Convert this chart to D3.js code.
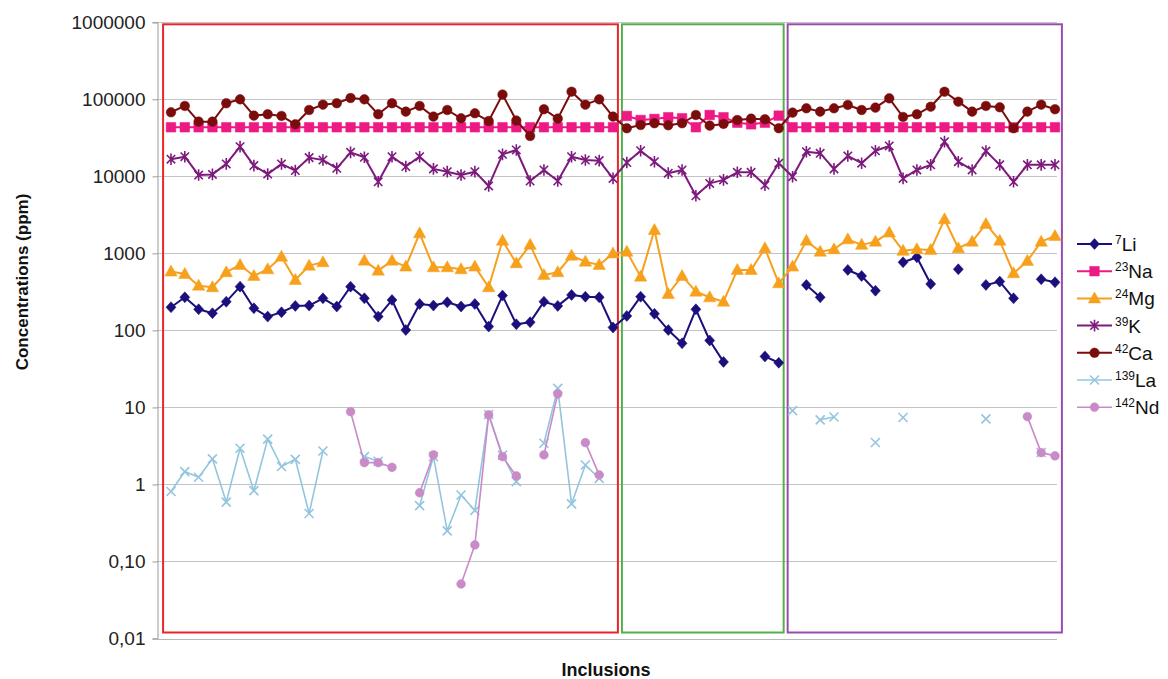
<!DOCTYPE html>
<html><head><meta charset="utf-8">
<script src="https://cdn.jsdelivr.net/npm/d3@7"></script>
<style>body{margin:0;background:#fff}svg{display:block;font-family:"Liberation Sans",Arial,sans-serif}</style>
</head><body><svg id="c" width="1168" height="679"></svg>
<script>
const N = null;
const inclusions = d3.range(65);
const li = [200,269,188,167,236,370,194,151,172,208,210,261,204,370,261,151,248,101,220,210,232,204,220,112,283,120,128,236,208,289,274,269,109,
  154,274,164,101,68,188,74,39,N,N,46,38,
  N,389,269,N,609,509,328,N,767,891,401,N,622,N,389,430,261,N,461,422];
const na = [43400,43400,43400,43400,43400,43400,43400,43400,43400,43400,43400,43400,43400,43400,43400,43400,43400,43400,43400,43400,43400,43400,43400,43400,43400,43400,43400,43400,43400,43400,43400,43400,43400,
  60800,53900,55600,58500,56700,43400,62600,58500,49700,47400,49700,61400,
  43400,43400,43400,43400,43400,43400,43400,43400,43400,43400,43400,43400,43400,43400,43400,43400,43400,43400,43400,43400];
const mg = [580,541,381,363,569,708,509,622,906,452,693,767,N,N,805,597,805,673,1820,660,660,622,673,363,1460,745,1290,525,569,934,781,708,1000,
  1050,499,2010,297,509,318,269,236,609,609,1165,409,
  673,1460,1050,1130,1520,1290,1420,1860,1080,1130,1110,2770,1165,1420,2410,1460,552,798,1420,1680];
const k = [16700,18000,10400,10600,14500,24300,13800,10700,14500,11900,17500,16300,12700,20500,17700,8500,18000,13400,18000,12500,11500,10400,11500,7500,19300,22000,8700,12100,8700,18000,16300,16000,9400,
  15100,21500,15500,11000,12100,5600,8100,9000,11300,11300,7700,14800,
  9900,20900,19900,12500,18400,14800,21500,24800,9400,12100,14100,28200,15500,12100,21300,14100,8500,14100,14100,14100];
const ca = [67900,82000,51300,51300,88900,100000,61400,64000,60800,47400,72700,85200,88900,104000,100000,64000,88900,69200,82000,59600,72700,56700,65900,52300,115000,53000,33400,74300,56100,125600,85200,100000,59600,
  42100,46400,48900,46000,48900,62600,45500,47900,53900,56100,55100,42100,
  67100,76500,69200,76500,84500,72700,78000,103000,59000,64000,80200,125600,93200,69200,82000,78800,42100,69200,85200,74300];
const la = [0.81,1.47,1.24,2.15,0.59,2.95,0.83,3.87,1.71,2.12,0.42,2.72,N,N,2.3,2.0,N,N,0.53,2.3,0.25,0.73,0.46,8.1,2.4,1.09,N,3.43,17.7,0.56,1.79,1.2,N,
  N,N,N,N,N,N,N,N,N,N,N,N,
  9.1,N,6.9,7.5,N,N,3.5,N,7.4,N,N,N,N,N,7.1,N,N,N,2.6,N];
const nd = [N,N,N,N,N,N,N,N,N,N,N,N,N,8.8,1.92,1.92,1.67,N,0.78,2.42,N,0.051,0.164,8.0,2.3,1.29,N,2.42,15.0,N,3.49,1.33,N,
  N,N,N,N,N,N,N,N,N,N,N,N,
  N,N,N,N,N,N,N,N,N,N,N,N,N,N,N,N,N,7.6,2.59,2.35];
const tickValues = [0.01,0.1,1,10,100,1000,10000,100000,1000000];
const tickLabels = ["0,01","0,10","1","10","100","1000","10000","100000","1000000"];
const isotopes = ["7","23","24","39","42","139","142"];
const elements = ["Li","Na","Mg","K","Ca","La","Nd"];
const groups = [[0,32],[33,44],[45,64]];
const yTitle = "Concentrations (ppm)";
const xTitle = "Inclusions";

const svg = d3.select("#c");
const x = d3.scaleLinear().domain([0,64]).range([171,1055]);
const y = d3.scaleLog().domain([0.01,1e6]).range([638.5,22.3]);
const left = 157, right = 1057;

// gridlines
svg.append("g").selectAll("line").data(tickValues.slice(1)).join("line")
  .attr("x1",left).attr("x2",right).attr("y1",d=>Math.round(y(d))+0.5).attr("y2",d=>Math.round(y(d))+0.5)
  .attr("stroke","#c4c4c4").attr("stroke-width",1);

// y axis
const ya = svg.append("g").attr("transform",`translate(${left+0.5},0)`)
  .call(d3.axisLeft(y).tickValues(tickValues).tickFormat((d,i)=>tickLabels[i]).tickSize(5).tickPadding(7));
ya.select(".domain").attr("stroke","#9a9a9a");
ya.selectAll(".tick line").attr("stroke","#9a9a9a");
ya.selectAll(".tick text").attr("font-size",19).attr("fill","#222").attr("font-family","Liberation Sans, Arial");
// x axis line
svg.append("line").attr("x1",left).attr("x2",right).attr("y1",Math.round(y(0.01))+0.5).attr("y2",Math.round(y(0.01))+0.5)
  .attr("stroke","#b8b8b8");

// boxes
const boxColors = ["#e8262a","#52b04c","#9a4bae"];
const boxPad = [[-1,-2],[2,-2],[2,0]];
groups.forEach((g,i)=>{
  const x0 = x(g[0]-0.5)+boxPad[i][0], x1 = x(g[1]+0.5)+boxPad[i][1];
  svg.append("rect").attr("x",x0).attr("y",y(1e6)+2).attr("width",x1-x0).attr("height",y(0.01)-6-(y(1e6)+2))
    .attr("fill","none").attr("stroke",boxColors[i]).attr("stroke-width",2);
});

// marker paths
const M = {
  diamond:"M0,-5.5L5,0L0,5.5L-5,0Z",
  square:"M-4.8,-4.8H4.8V4.8H-4.8Z",
  triangle:"M0,-6.5L6.2,4.5L-6.2,4.5Z",
  star:"M-4.2,-4.2L4.2,4.2M-4.2,4.2L4.2,-4.2M0,-5.8L0,5.8",
  circle:"M4.8,0A4.8,4.8 0 1,1 -4.8,0A4.8,4.8 0 1,1 4.8,0Z",
  cross:"M-4.5,-4.5L4.5,4.5M-4.5,4.5L4.5,-4.5",
  circleS:"M4.4,0A4.4,4.4 0 1,1 -4.4,0A4.4,4.4 0 1,1 4.4,0Z"
};
const series = [
  {data:li, color:"#1b0f7c", w:2, m:"diamond", fill:true},
  {data:na, color:"#ec1a82", w:2, m:"square", fill:true},
  {data:mg, color:"#f6a01c", w:2, m:"triangle", fill:true},
  {data:k, color:"#7d1a7d", w:2, m:"star", fill:false, sw:1.6},
  {data:ca, color:"#7a0c0c", w:2, m:"circle", fill:true},
  {data:la, color:"#93c6de", w:1.6, m:"cross", fill:false, sw:1.6},
  {data:nd, color:"#c98ac8", w:1.6, m:"circleS", fill:true}
];
const line = d3.line().defined(d=>d.v!=null).x(d=>x(d.i)).y(d=>y(d.v));
series.forEach(s=>{
  const pts = inclusions.map(i=>({i, v:s.data[i]}));
  const g = svg.append("g");
  g.append("path").attr("d",line(pts)).attr("fill","none").attr("stroke",s.color).attr("stroke-width",s.w).attr("stroke-linejoin","round");
  g.selectAll("path.m").data(pts.filter(d=>d.v!=null)).join("path").attr("class","m")
    .attr("transform",d=>`translate(${x(d.i)},${y(d.v)})`).attr("d",M[s.m])
    .attr("fill",s.fill?s.color:"none").attr("stroke",s.color).attr("stroke-width",s.fill?0.5:(s.sw||1.5));
});

// legend
const lg = svg.append("g");
series.forEach((s,i)=>{
  const ly = 244 + i*27.2;
  lg.append("line").attr("x1",1077).attr("x2",1112).attr("y1",ly).attr("y2",ly).attr("stroke",s.color).attr("stroke-width",s.w);
  lg.append("path").attr("transform",`translate(1094.5,${ly})`).attr("d",M[s.m])
    .attr("fill",s.fill?s.color:"none").attr("stroke",s.color).attr("stroke-width",s.fill?0.5:(s.sw||1.5));
  const t = lg.append("text").attr("x",1115).attr("y",ly+7).attr("font-size",19).attr("fill","#111");
  t.append("tspan").attr("font-size",12).attr("dy",-7).text(isotopes[i]);
  t.append("tspan").attr("dy",7).text(elements[i]);
});

// titles
svg.append("text").attr("transform","translate(28,282) rotate(-90)").attr("text-anchor","middle")
  .attr("font-size",17).attr("font-weight","bold").attr("fill","#111").text(yTitle);
svg.append("text").attr("x",606).attr("y",676).attr("text-anchor","middle")
  .attr("font-size",18).attr("font-weight","bold").attr("fill","#111").text(xTitle);
</script></body></html>
